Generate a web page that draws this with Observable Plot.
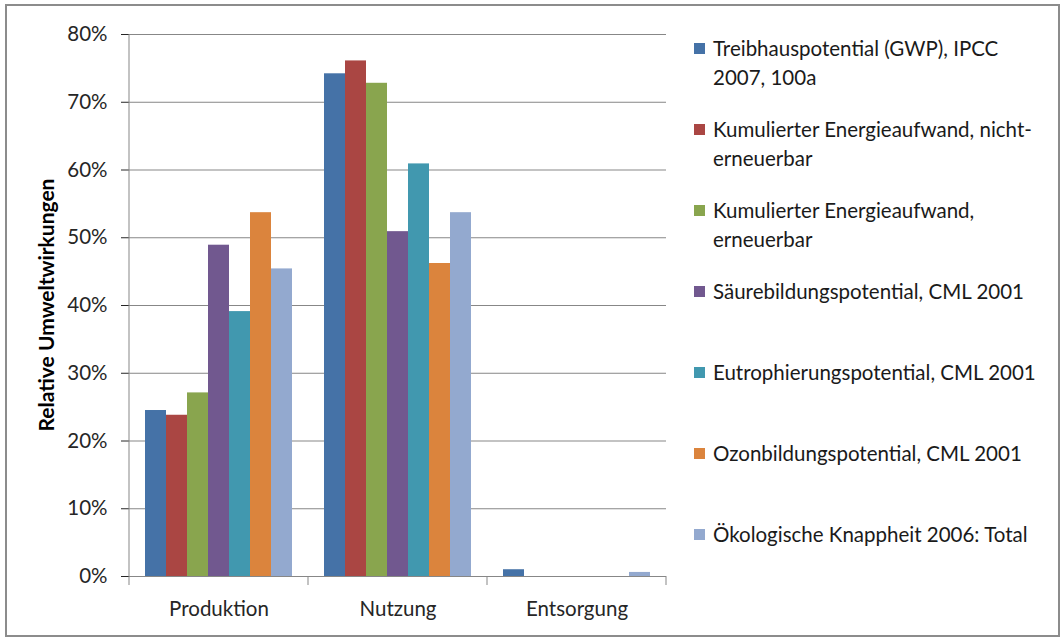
<!DOCTYPE html>
<html><head><meta charset="utf-8">
<script src="https://cdn.jsdelivr.net/npm/d3@7"></script>
<script src="https://cdn.jsdelivr.net/npm/@observablehq/plot@0.6"></script>
<style>
body{margin:0;background:#fff;font-family:Lato,"Open Sans",sans-serif;}
#frame{position:absolute;left:5px;top:4px;width:1055px;height:633px;border:2px solid #8c8c8c;box-sizing:border-box;}
#chart{position:absolute;left:0;top:0;}
#legend{position:absolute;left:694px;top:34px;}
.item{position:absolute;left:0;display:flex;align-items:flex-start;}
.sw{width:11px;height:11px;margin-top:9px;margin-right:8px;flex:none;}
.lab{font-size:20.5px;line-height:29px;white-space:pre;color:#1a1a1a;}
</style></head><body>
<div id="frame"></div><div id="chart"></div><div id="legend"></div>
<script>
const categories = ["Produktion", "Nutzung", "Entsorgung"];
const series = [
  "Treibhauspotential (GWP), IPCC 2007, 100a",
  "Kumulierter Energieaufwand, nicht-erneuerbar",
  "Kumulierter Energieaufwand, erneuerbar",
  "Säurebildungspotential, CML 2001",
  "Eutrophierungspotential, CML 2001",
  "Ozonbildungspotential, CML 2001",
  "Ökologische Knappheit 2006: Total"
];
const legendLabels = [
  "Treibhauspotential (GWP), IPCC\n2007, 100a",
  "Kumulierter Energieaufwand, nicht-\nerneuerbar",
  "Kumulierter Energieaufwand,\nerneuerbar",
  "Säurebildungspotential, CML 2001",
  "Eutrophierungspotential, CML 2001",
  "Ozonbildungspotential, CML 2001",
  "Ökologische Knappheit 2006: Total"
];
const colors = ["#4572A7", "#AA4643", "#89A54E", "#71588F", "#4198AF", "#DB843D", "#93A9CF"];
// values in % per category (Produktion, Nutzung, Entsorgung)
const gwp    = [24.5, 74.2, 1.0];
const kedNE  = [23.8, 76.1, 0.0];
const kedE   = [27.1, 72.8, 0.0];
const saeure = [48.9, 50.9, 0.0];
const eutro  = [39.1, 60.9, 0.0];
const ozon   = [53.7, 46.2, 0.0];
const ubp    = [45.4, 53.7, 0.6];
const yTicks = [0, 10, 20, 30, 40, 50, 60, 70, 80];
const yTitle = "Relative Umweltwirkungen";

const seriesValues = [gwp, kedNE, kedE, saeure, eutro, ozon, ubp];
const data = categories.flatMap((c, i) => series.map((s, j) => ({cat: c, series: s, value: seriesValues[j][i]})));

const plot = Plot.plot({
  width: 680, height: 637,
  marginLeft: 128, marginRight: 13, marginTop: 34, marginBottom: 61,
  style: {fontFamily: "Lato, sans-serif", fontSize: "20.5px", color: "#262626", background: "transparent"},
  fx: {domain: categories, padding: 0, label: null, axis: "bottom", tickSize: 0, tickPadding: 25},
  x: {domain: series, paddingInner: 0, paddingOuter: 0.75, axis: null},
  y: {domain: [0, 80], ticks: yTicks, tickFormat: d => d + "%", tickSize: 8, tickPadding: 14, label: null},
  color: {domain: series, range: colors},
  marks: [
    Plot.gridY(yTicks, {stroke: "#878787", strokeOpacity: 1}),
    Plot.barY(data, {fx: "cat", x: "series", y: "value", fill: "series", inset: 0})
  ]
});
document.getElementById("chart").appendChild(plot);

const svg = d3.select(plot);
svg.selectAll('[aria-label="y-axis tick"]').attr("stroke", "#878787");
const fx = plot.scale("fx"), y = plot.scale("y");
const edges = categories.map(c => fx.apply(c)).concat([fx.apply(categories[categories.length - 1]) + fx.bandwidth]);
const g = svg.append("g").attr("stroke", "#878787").attr("stroke-width", 1);
edges.forEach(x => g.append("line").attr("x1", x).attr("x2", x).attr("y1", y.apply(0)).attr("y2", y.apply(0) + 9));
g.append("line").attr("x1", edges[0]).attr("x2", edges[0]).attr("y1", y.apply(80)).attr("y2", y.apply(0));
svg.append("text")
  .attr("transform", `translate(47,${(y.apply(0) + y.apply(80)) / 2}) rotate(-90)`)
  .attr("text-anchor", "middle").attr("dy", "0.35em")
  .attr("font-weight", "bold").attr("font-size", 21).attr("fill", "#000")
  .text(yTitle);

const legend = d3.select("#legend");
legendLabels.forEach((l, i) => {
  const it = legend.append("div").attr("class", "item").style("top", (i * 81) + "px");
  it.append("div").attr("class", "sw").style("background", colors[i]);
  it.append("div").attr("class", "lab").text(l);
});
</script>
</body></html>
